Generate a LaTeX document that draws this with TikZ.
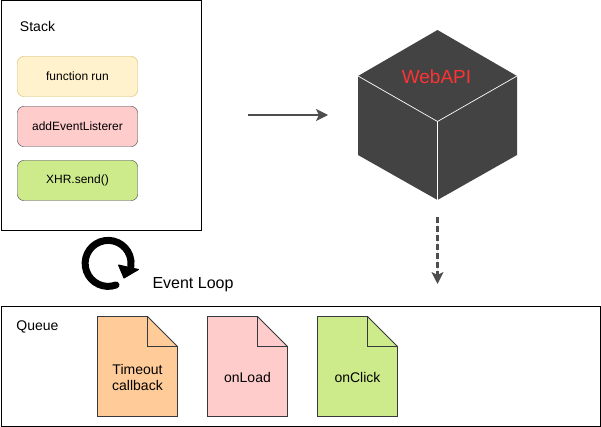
\documentclass[tikz,border=0pt]{standalone}
\usepackage{fontspec}
\setmainfont{Liberation Sans}
\usepackage{xcolor}
\usetikzlibrary{arrows.meta}
\definecolor{runfill}{HTML}{FFF2CC}
\definecolor{rundraw}{HTML}{D6B656}
\definecolor{pinkfill}{HTML}{FFCCCC}
\definecolor{greenfill}{HTML}{CDEB8B}
\definecolor{orangefill}{HTML}{FFCC99}
\definecolor{edgedark}{HTML}{36393D}
\definecolor{cubefill}{HTML}{434343}
\definecolor{webred}{HTML}{FF3333}
\definecolor{flowgray}{HTML}{4D4D4D}

\tikzset{
    panel/.style={draw=black, line width=1pt},
    framelabel/.style={font=\fontsize{14}{16}\selectfont, inner sep=0pt},
    stackitem/.style={draw=edgedark, rounded corners=6pt, minimum width=120pt, minimum height=40pt, inner sep=0pt, font=\fontsize{12}{14}\selectfont},
    queuetext/.style={align=center, inner sep=0pt, font=\fontsize{14}{16}\selectfont},
    flow/.style={-{Stealth[length=12pt, width=12pt, inset=3pt]}, draw=flowgray, fill=flowgray, line width=1.6pt},
}

\begin{document}
\begin{tikzpicture}[x=1pt, y=-1pt]
    \useasboundingbox (0,0) rectangle (601,427);

    % Stack frame
    \draw[panel] (1,0.5) rectangle (201,230.5);
    \node[framelabel] (stacklabel) at (37.5,27) {Stack};
    \node[stackitem, fill=runfill, draw=rundraw] (run) at (77.5,76.5) {function run};
    \node[stackitem, fill=pinkfill] (listener) at (77.5,126.5) {addEventListerer};
    \node[stackitem, fill=greenfill] (send) at (77.5,180.5) {XHR.send()};

    % Event loop
    \draw[line width=7pt, line cap=round] (116,285) arc[start angle=70, end angle=368, x radius=23pt, y radius=-23pt];
    \fill[line join=round, draw=black, line width=1pt] (118.5,265) -- (138.5,269.5) -- (124,278) -- cycle;
    \node[inner sep=0pt, font=\fontsize{16}{18}\selectfont] (looplabel) at (193,285) {Event Loop};

    % WebAPI cube
    \coordinate (top) at (437.5,30);
    \coordinate (left) at (358,76);
    \coordinate (right) at (517,76);
    \coordinate (centre) at (437.5,121.5);
    \coordinate (bottom) at (437.5,200);
    \fill[cubefill] (top) -- (right) -- (517,155) -- (bottom) -- (358,155) -- (left) -- cycle;
    \draw[white, line width=0.7pt] (left) -- (centre) -- (right);
    \draw[white, line width=0.7pt] (centre) -- (bottom);
    \node[inner sep=0pt, text=webred, font=\fontsize{19}{21}\selectfont] (webapi) at (436.5,77) {WebAPI};

    % Arrows
    \coordinate (callstart) at (248,115);
    \coordinate (callend) at (328,115);
    \coordinate (donestart) at (437.5,217);
    \coordinate (doneend) at (437.5,284);
    \draw[flow] (callstart) -- (callend);
    \draw[flow, dash pattern=on 6pt off 3pt, line width=2.2pt] (donestart) -- (doneend);

    % Queue frame
    \draw[panel] (1,306.5) rectangle (600,426.5);
    \node[framelabel] (queuelabel) at (37.5,327) {Queue};

    % Callback documents
    \foreach \name/\xpos/\col/\txt in {timeout/97.5/orangefill/{Timeout\\callback}, load/207.5/pinkfill/onLoad, click/317.5/greenfill/onClick} {
        \draw[edgedark, fill=\col, line width=0.8pt] (\xpos,316.5) -- ++(50,0) -- ++(30,30) -- ++(0,70) -- ++(-80,0) -- cycle;
        \draw[edgedark, line width=0.8pt] (\xpos+50,316.5) -- ++(0,30) -- ++(30,0);
        \node[queuetext] (\name) at (\xpos+40,377) {\txt};
    }
\end{tikzpicture}
\end{document}
